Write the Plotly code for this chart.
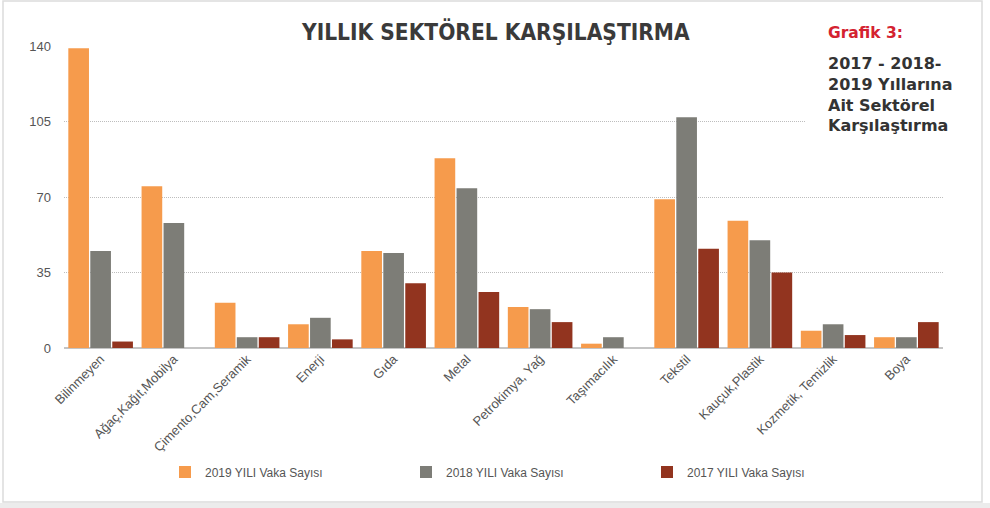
import plotly.graph_objects as go

categories = ["Bilinmeyen", "Ağaç,Kağıt,Mobilya", "Çimento,Cam,Seramik", "Enerji", "Gıda",
              "Metal", "Petrokimya, Yağ", "Taşımacılık", "Tekstil", "Kauçuk,Plastik",
              "Kozmetik, Temizlik", "Boya"]
vals_2019 = [139, 75, 21, 11, 45, 88, 19, 2, 69, 59, 8, 5]
vals_2018 = [45, 58, 5, 14, 44, 74, 18, 5, 107, 50, 11, 5]
vals_2017 = [3, 0, 5, 4, 30, 26, 12, 0, 46, 35, 6, 12]
series_names = ["2019 YILI Vaka Sayısı", "2018 YILI Vaka Sayısı", "2017 YILI Vaka Sayısı"]
colors = ["#F69B4C", "#7D7D77", "#92341F"]
y_ticks = [0, 35, 70, 105, 140]
caption_lines = ["2017 - 2018-", "2019 Yıllarına", "Ait Sektörel", "Karşılaştırma"]

W, H = 990, 508
ML, MR, MT, MB = 64, 47, 46, 160
PW, PH = W - ML - MR, H - MT - MB


def px(x):
    return (x - ML) / PW


def py(y):
    return (H - MB - y) / PH


fig = go.Figure()
for name, vals, col in zip(series_names, [vals_2019, vals_2018, vals_2017], colors):
    fig.add_trace(go.Bar(x=categories, y=vals, name=name, marker_color=col,
                         marker_line_width=0))

fig.update_layout(
    width=W, height=H,
    margin=dict(l=ML, r=MR, t=MT, b=MB, autoexpand=False),
    paper_bgcolor="white", plot_bgcolor="white",
    barmode="group", bargap=0.1, bargroupgap=0.06,
    font=dict(family="Liberation Sans, Arial, sans-serif", color="#555555"),
    showlegend=True,
    legend=dict(orientation="h", x=px(165), y=py(472), xanchor="left", yanchor="middle",
                font=dict(size=12, color="#555555"), entrywidth=196, entrywidthmode="pixels",
                itemsizing="constant"),
    xaxis=dict(tickangle=-45, tickfont=dict(size=13, color="#555555"), showgrid=False,
               showline=False, ticks="", fixedrange=True),
    yaxis=dict(range=[0, 140], tickvals=y_ticks, ticktext=[str(v) for v in y_ticks],
               tickfont=dict(size=13, color="#555555"), showgrid=True, gridcolor="#bdbdbd",
               griddash="1px,1px", gridwidth=1, zeroline=True, zerolinecolor="#c4c4c4",
               zerolinewidth=2, showline=False, ticklabelstandoff=12),
)

shapes = [
    # white block covering the upper gridlines behind the side caption
    dict(type="rect", xref="paper", yref="paper", x0=px(806), x1=px(950), y0=py(0), y1=py(150),
         fillcolor="white", line_width=0, layer="above"),
    # outer frame
    dict(type="rect", xref="paper", yref="paper", x0=px(3), x1=px(982), y0=py(502), y1=py(1),
         fillcolor="rgba(0,0,0,0)", line=dict(color="#dcdcdc", width=1.5), layer="above"),
    dict(type="rect", xref="paper", yref="paper", x0=px(0), x1=px(990), y0=py(508), y1=py(503),
         fillcolor="#ececec", line_width=0, layer="above"),
]
fig.update_layout(shapes=shapes)

annotations = [
    dict(text="<b>YILLIK SEKTÖREL KARŞILAŞTIRMA</b>", xref="paper", yref="paper",
         x=px(495), y=py(32), xanchor="center", yanchor="middle", showarrow=False,
         font=dict(family="DejaVu Sans Condensed, sans-serif", size=22.5, color="#3a3a3a")),
    dict(text="<b>Grafik 3:</b>", xref="paper", yref="paper", x=px(826), y=py(33),
         xanchor="left", yanchor="middle", showarrow=False, align="left",
         font=dict(family="DejaVu Sans, sans-serif", size=15.5, color="#D42230")),
    dict(text="<b>" + "<br>".join(caption_lines) + "</b>", xref="paper", yref="paper",
         x=px(826), y=py(94.5), xanchor="left", yanchor="middle", showarrow=False,
         align="left", font=dict(family="DejaVu Sans, sans-serif", size=16, color="#333333")),
]
fig.update_layout(annotations=annotations)

fig.write_html("out.html", post_script="document.body.style.margin='0';",
               config={"displayModeBar": False})
